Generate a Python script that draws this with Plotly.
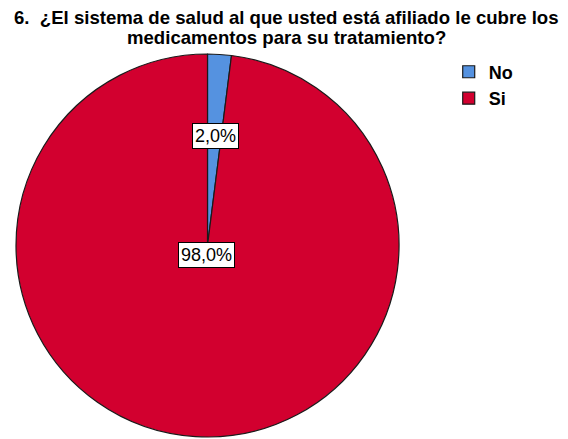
import math
import plotly.graph_objects as go

categories = ["No", "Si"]
percentages = [2.0, 98.0]
colors = ["#5592E0", "#D2002F"]
title_lines = [
    "6.  ¿El sistema de salud al que usted está afiliado le cubre los",
    "medicamentos para su tratamiento?",
]

W, H = 568, 439
FONT = "Liberation Sans, Arial"
# pie placement (paper fractions)
dom_x = [16 / W, 399 / W]
dom_y = [1 - 437 / H, 1 - 54 / H]

fig = go.Figure(
    go.Pie(
        labels=categories,
        values=percentages,
        sort=False,
        direction="clockwise",
        rotation=0,
        textinfo="none",
        hoverinfo="label+percent",
        marker=dict(colors=colors, line=dict(color="#1a1a1a", width=1.2)),
        domain=dict(x=dom_x, y=dom_y),
        showlegend=True,
    )
)

# boxed percentage labels placed along each slice's mid angle
cx_px = (dom_x[0] + dom_x[1]) / 2 * W
cy_px = (1 - (dom_y[0] + dom_y[1]) / 2) * H
radius_px = min((dom_x[1] - dom_x[0]) * W, (dom_y[1] - dom_y[0]) * H) / 2
label_radius = [0.64, 0.05]
total = sum(percentages)
start = 0.0
for val, rr in zip(percentages, label_radius):
    mid = (start + val / 2) / total * 2 * math.pi
    start += val
    x_px = cx_px + rr * radius_px * math.sin(mid)
    y_px = cy_px - rr * radius_px * math.cos(mid)
    fig.add_annotation(
        x=x_px / W, y=1 - y_px / H, xref="paper", yref="paper",
        text=f"{val:.1f}%".replace(".", ","),
        showarrow=False,
        font=dict(family=FONT, size=18, color="black"),
        bgcolor="white", bordercolor="black", borderwidth=1, borderpad=2,
    )

# bold title, one annotation per line for tight leading
for line, y_mid in zip(title_lines, [18, 37]):
    fig.add_annotation(
        x=0.505, y=1 - y_mid / H, xref="paper", yref="paper",
        xanchor="center", yanchor="middle",
        text=f"<b>{line}</b>",
        showarrow=False,
        font=dict(family=FONT, size=18.6, color="black"),
    )

fig.update_layout(
    width=W, height=H,
    margin=dict(l=0, r=0, t=0, b=0),
    paper_bgcolor="white", plot_bgcolor="white",
    legend=dict(
        x=0.79, y=0.878, xanchor="left", yanchor="top",
        font=dict(family=FONT, size=18, color="black", weight="bold"),
        tracegroupgap=0,
        bgcolor="rgba(0,0,0,0)",
    ),
)

fig.write_html("out.html")
